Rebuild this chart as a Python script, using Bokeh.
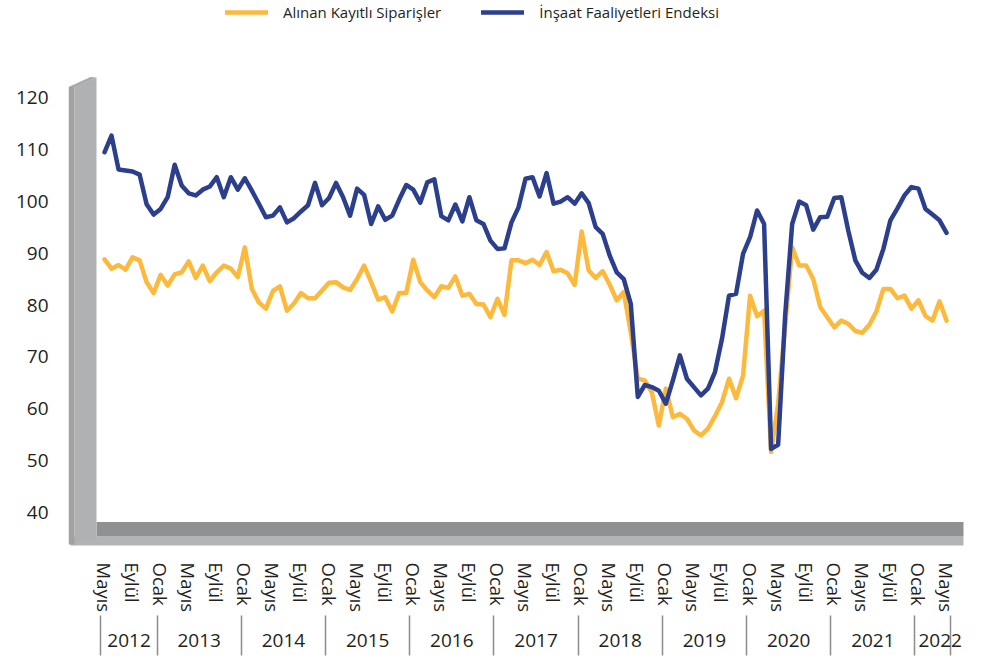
from bokeh.plotting import figure
from bokeh.models import FixedTicker, LinearAxis, Range1d, Legend, LegendItem
from bokeh.embed import file_html
from bokeh.resources import INLINE

# ---------------- data ----------------
series_orders_name = "Alınan Kayıtlı Siparişler"
series_index_name = "İnşaat Faaliyetleri Endeksi"

orders = [
    88.8, 87.0, 87.7, 86.8, 89.2, 88.6, 84.4, 82.3, 85.8, 83.75, 85.9, 86.3, 88.4, 85.2, 87.6, 84.6,
    86.3, 87.6, 87.0, 85.4, 91.1, 83.1, 80.5, 79.3, 82.7, 83.6, 78.9, 80.3, 82.3, 81.3, 81.3,
    82.8, 84.3, 84.4, 83.4, 82.9, 85.0, 87.6, 84.4, 81.05, 81.5, 78.75, 82.3, 82.3, 88.7, 84.4,
    82.8, 81.5, 83.6, 83.3, 85.5, 81.8, 82.15, 80.2, 80.1, 77.65, 81.2, 78.1, 88.6, 88.6, 88.05,
    88.7, 87.7, 90.2, 86.5, 86.8, 86.1, 83.9, 94.15, 86.65, 85.2, 86.5, 83.9, 80.9, 82.5, 74.8,
    65.8, 65.5, 63.2, 56.8, 63.9, 58.4, 59.05, 58.1, 55.85, 54.9, 56.2, 58.6, 61.3, 65.8, 62.05,
    66.4, 81.8, 77.85, 78.9, 51.7, 61.0, 76.0, 91.1, 87.6, 87.6, 85.0, 79.6, 77.65, 75.7, 77.0,
    76.4, 75.0, 74.65, 76.2, 78.75, 83.1, 83.1, 81.3, 81.8, 79.3, 80.9, 77.85, 77.0, 80.7, 77.0,
]

construction = [
    109.4, 112.6, 106.1, 105.9, 105.7, 105.1, 99.4, 97.4, 98.5, 100.75, 107.0, 103.0, 101.5, 101.1,
    102.2, 102.8, 104.6, 100.75, 104.6, 102.2, 104.4, 102.0, 99.5, 96.9, 97.2, 98.8, 95.9, 96.7,
    98.0, 99.2, 103.5,
    99.2, 100.6, 103.5, 100.75, 97.2, 102.4, 101.2, 95.6, 99.0, 96.4, 97.2, 100.3, 103.1, 102.2,
    99.7, 103.6, 104.2, 97.1, 96.3, 99.35, 96.1, 100.75, 96.3, 95.6, 92.4, 90.8, 90.9, 95.9, 98.8, 104.3,
    104.6, 100.9, 105.4, 99.5, 99.9, 100.75, 99.5, 101.5, 99.6, 95.0, 93.7, 89.5, 86.3, 85.0, 80.2,
    62.3, 64.6, 64.2, 63.5, 61.0, 65.5, 70.3, 65.8, 64.2, 62.6, 63.9, 67.1, 73.5, 81.8, 82.15,
    89.85, 93.05, 98.2, 95.6, 52.3, 53.1, 78.0, 95.6, 99.9, 99.2, 94.5, 96.9, 97.0, 100.6, 100.75,
    94.3, 88.6, 86.2, 85.2, 86.8, 90.8, 96.3, 98.6, 101.1, 102.7, 102.4, 98.5, 97.4, 96.3, 93.9,
]

month_names = ["Ocak", "Şubat", "Mart", "Nisan", "Mayıs", "Haziran", "Temmuz",
               "Ağustos", "Eylül", "Ekim", "Kasım", "Aralık"]
start_year, start_month = 2012, 5          # Mayıs 2012
years = list(range(2012, 2023))
y_ticks = [40, 50, 60, 70, 80, 90, 100, 110, 120]

n = len(orders)
idx = list(range(n))
month_of = [(start_month - 1 + i) % 12 for i in idx]
year_of = [start_year + (start_month - 1 + i) // 12 for i in idx]

# ---------------- layout constants (pixels) ----------------
X0, DX = 104.0, 7.017          # x of first month, px per month
Y120, DY = 96.7, 5.195         # y of value 120, px per unit
def X(px): return (px - X0) / DX
def Y(py): return 120 - (py - Y120) / DY

FR_L, FR_R, FR_T, FR_B = 68, 965, 0, 546

p = figure(frame_width=FR_R - FR_L, frame_height=FR_B - FR_T,
           x_range=Range1d(X(FR_L), X(FR_R)), y_range=Range1d(Y(FR_B), Y(FR_T)),
           output_backend="svg", toolbar_location=None,
           min_border_left=FR_L, min_border_right=0, min_border_top=FR_T,
           min_border_bottom=112)
p.outline_line_color = None
p.grid.visible = False
p.background_fill_color = "white"

FONT = "Open Sans"
TXT = "#231f20"

# ---------------- 3D walls (decoration) ----------------
def poly(pts, color):
    p.patch([X(a) for a, b in pts], [Y(b) for a, b in pts], fill_color=color, line_color=None)

poly([(70, 536), (963, 536), (963, 545), (70, 545)], "#b2b3b5")      # floor front edge
poly([(96, 521.5), (963, 521.5), (963, 536), (96, 536)], "#909193")  # floor top
poly([(74, 86), (96, 77), (96, 536), (74, 544)], "#b0b1b3")          # wall face
poly([(68, 86.5), (74, 86.5), (74, 544), (68, 544)], "#9fa1a3")      # wall edge
poly([(68, 86.5), (74, 86.5), (96, 77), (90, 76.5)], "#a9aaac")      # wall top

# ---------------- lines ----------------
r1 = p.line(idx, orders, line_color="#fdb93c", line_width=4.5, line_join="round", line_cap="round")
r2 = p.line(idx, construction, line_color="#2b3f8c", line_width=4.5, line_join="round", line_cap="round")

# ---------------- y axis ----------------
ya = p.yaxis[0]
ya.ticker = FixedTicker(ticks=y_ticks)
ya.axis_line_color = None
ya.major_tick_line_color = None
ya.minor_tick_line_color = None
ya.major_tick_out = 0
ya.major_tick_in = 0
ya.major_label_standoff = 20
ya.major_label_text_font = FONT
ya.major_label_text_font_size = "19px"
ya.major_label_text_color = TXT

# ---------------- x axis (months) ----------------
mt = [i for i in idx if month_of[i] in (4, 8, 0)]
xa = p.xaxis[0]
xa.ticker = FixedTicker(ticks=mt)
xa.major_label_overrides = {i: month_names[month_of[i]] for i in mt}
xa.major_label_orientation = "vertical"
xa.axis_line_color = None
xa.major_tick_line_color = None
xa.minor_tick_line_color = None
xa.major_tick_out = 0
xa.major_tick_in = 0
xa.major_label_standoff = 16
xa.major_label_text_font = FONT
xa.major_label_text_font_size = "18.5px"
xa.major_label_text_color = TXT

# ---------------- x axis (years) ----------------
x_end = X(FR_R)
bounds = [-0.5]
mids = []
for yr in years:
    members = [i for i in idx if year_of[i] == yr]
    lo, hi = members[0] - 0.5, members[-1] + 0.5
    full = len(members) == 12 or yr == years[0]
    mids.append((lo + hi) / 2 if full else (lo + x_end) / 2)
    bounds.append(hi)
ya2 = LinearAxis(ticker=FixedTicker(ticks=mids, minor_ticks=bounds),
                 major_label_overrides={m: str(yr) for m, yr in zip(mids, years)})
ya2.axis_line_color = None
ya2.major_tick_line_color = None
ya2.major_tick_out = 0
ya2.major_tick_in = 0
ya2.minor_tick_in = 0
ya2.minor_tick_out = 40
ya2.minor_tick_line_color = "#8c8c8c"
ya2.minor_tick_line_width = 1.5
ya2.major_label_standoff = -22
ya2.major_label_text_font = FONT
ya2.major_label_text_font_size = "19px"
ya2.major_label_text_color = TXT
p.add_layout(ya2, "below")

# ---------------- legend ----------------
leg = Legend(items=[LegendItem(label=series_orders_name, renderers=[r1]),
                    LegendItem(label=series_index_name, renderers=[r2])],
             orientation="horizontal", location=(225 - FR_L, FR_B - FR_T - 6 - 16),
             glyph_width=43, glyph_height=16, label_height=16, label_standoff=15,
             spacing=40, padding=0, margin=0, border_line_color=None,
             background_fill_alpha=0, label_text_font=FONT, label_text_font_size="15px",
             label_text_color=TXT)
p.add_layout(leg)

open("out.html", "w").write(file_html(p, INLINE))
